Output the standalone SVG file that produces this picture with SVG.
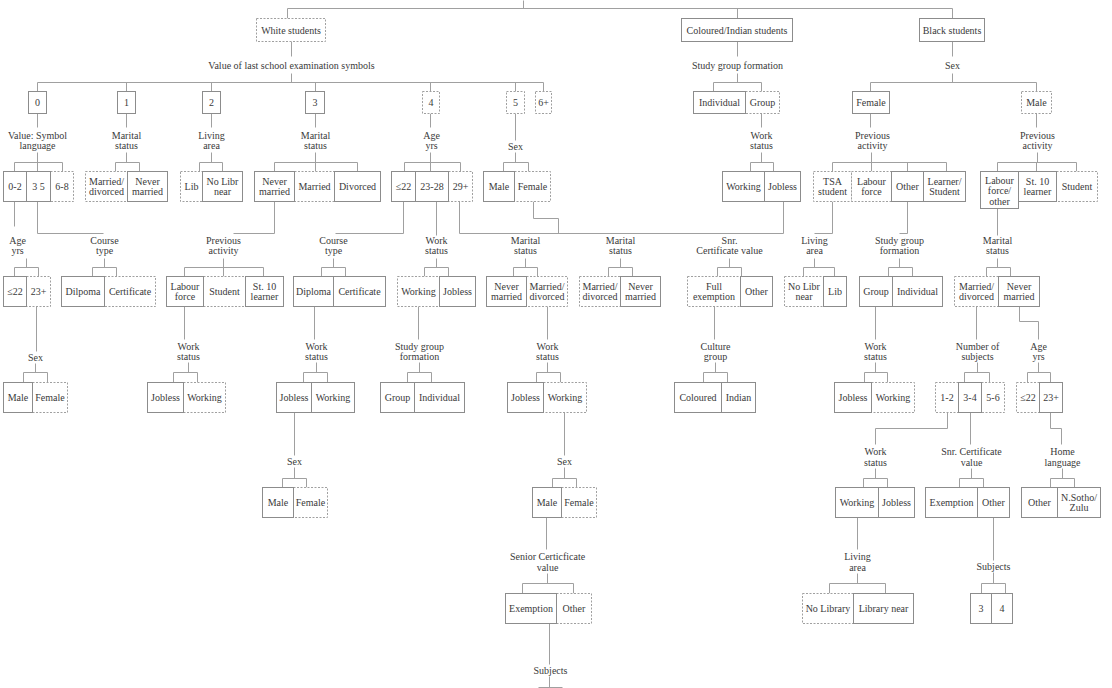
<svg xmlns="http://www.w3.org/2000/svg" width="1112" height="688" viewBox="0 0 1112 688">
<style>
.b{fill:#fff;stroke:#8c8c8c;stroke-width:1}
.d{fill:#fff;stroke:#a0a0a0;stroke-width:1;stroke-dasharray:2 1.5}
text{font-family:"Liberation Serif",serif;font-size:10px;fill:#3a3a3a;text-anchor:middle;dominant-baseline:central}
.c path{stroke:#a0a0a0;stroke-width:1;fill:none}
</style>
<rect width="1112" height="688" fill="#fff"/>
<g transform="translate(0.5,0.5)">
<g class="c" id="connectors">
<path d="M523 0V8M287 8H952M287 8V18M737 8V18M952 8V18"/>
<path d="M291 41V56M291 73V82M37 82H543M37 82V91M126 82V91M211 82V91M315 82V91M430 82V91M515 82V91M543 82V91"/>
<path d="M737 41V56M737 73V82M713 82H761M713 82V91M761 82V91"/>
<path d="M952 41V56M952 73V82M870 82H1036M870 82V91M1036 82V91"/>
<path d="M37 113V127M126 113V127M211 113V127M315 113V127M430 113V127M515 113V140M761 113V127M870 113V127M1036 113V127"/>
<path d="M37 152V162M126 152V162M211 152V162M315 152V162M430 152V162M515 152V162M761 152V162M871 152V162M1037 152V162"/>
<path d="M14 171V162H62V171M37 162V171M115 171V162H139V171M199 171V162H222V171M274 171V162H357V171M315 162V171M404 171V162H460V171M430 162V171M503 171V162H528V171M750 171V162H773V171M832 171V162H946V171M871 162V171M907 162V171M997 171V162H1076V171M1036 162V171"/>
<path d="M14 201V226M37 201V233H103M274 201V233H233M403 201V233H335M436 201V235M459 201V233H783M533 201V218H558V233M783 201V233M832 201V233H814M907 201V233H899M997 208V235"/>
<path d="M26 258V267M14 276V267H38V276M104 258V267M92 276V267H116V276M223 258V267M184 276V267H263V276M223 267V276M333 258V267M321 276V267H345V276M436 258V267M424 276V267H448V276M525 258V267M513 276V267H537V276M620 258V267M608 276V267H632V276M729 258V267M717 276V267H741V276M814 258V267M803 276V267H834V276M899 258V267M888 276V267H912V276M997 258V267M986 276V267H1010V276"/>
<path d="M36 306V351M184 306V339M314 306V339M418 306V339M547 306V339M714 306V339M875 306V339M976 306V339M1019 306V321H1038V339"/>
<path d="M35 363V372M23 382V372H47V382M188 362V372M173 382V372H197V382M316 362V372M303 382V372H327V382M419 362V372M407 382V372H431V382M547 362V372M536 382V372H560V382M715 362V372M703 382V372H727V382M875 362V372M864 382V372H887V382M977 362V372M964 382V372H989V382M1038 362V372M1027 382V372H1050V382"/>
<path d="M294 412V455M564 412V455M947 412V428H875V444M970 412V444M1050 412V428H1061V444"/>
<path d="M294 467V478M282 487V478H306V487M564 467V478M552 487V478H576V487M875 468V478M863 487V478H887V487M971 468V478M959 487V478H983V487M1062 468V478M1050 487V478H1074V487"/>
<path d="M546 517V549M857 517V549M993 517V560"/>
<path d="M547 573V583M522 593V583H573V593M857 573V583M829 593V583H885V593M993 572V583M981 593V583H1005V593"/>
<path d="M549 623V664M549 676V687M538 687H562"/>
</g>
<g id="n-white"><rect class="d" x="256" y="18" width="69" height="23"/><text x="290.5" y="29.5">White students</text></g>
<g id="n-ci"><rect class="b" x="681" y="18" width="111" height="23"/><text x="736.5" y="29.5">Coloured/Indian students</text></g>
<g id="n-black"><rect class="b" x="919" y="18" width="65" height="23"/><text x="951.5" y="29.5">Black students</text></g>
<g id="l-value"><text x="291" y="65">Value of last school examination symbols</text></g>
<g id="l-ci-sgf"><text x="737" y="65">Study group formation</text></g>
<g id="l-b-sex"><text x="952" y="65">Sex</text></g>
<g id="n-s0"><rect class="b" x="28" y="91" width="18" height="22"/><text x="37" y="102">0</text></g>
<g id="n-s1"><rect class="b" x="117" y="91" width="18" height="22"/><text x="126" y="102">1</text></g>
<g id="n-s2"><rect class="b" x="202" y="91" width="18" height="22"/><text x="211" y="102">2</text></g>
<g id="n-s3"><rect class="b" x="305" y="91" width="19" height="22"/><text x="314.5" y="102">3</text></g>
<g id="n-s4"><rect class="d" x="422" y="91" width="17" height="22"/><text x="430.5" y="102">4</text></g>
<g id="n-s5"><rect class="d" x="506" y="91" width="18" height="22"/><text x="515" y="102">5</text></g>
<g id="n-s6"><rect class="d" x="535" y="91" width="16" height="22"/><text x="543" y="102">6+</text></g>
<g id="n-ci-grp"><rect class="d" x="745" y="91" width="34" height="22"/><text x="762" y="102">Group</text></g>
<g id="n-ci-ind"><rect class="b" x="693" y="91" width="52" height="22"/><text x="719" y="102">Individual</text></g>
<g id="n-b-male"><rect class="d" x="1021" y="91" width="30" height="22"/><text x="1036" y="102">Male</text></g>
<g id="n-b-female"><rect class="b" x="852" y="91" width="37" height="22"/><text x="870.5" y="102">Female</text></g>
<g id="l-vsl"><text x="37" y="135">Value: Symbol</text><text x="37" y="145">language</text></g>
<g id="l-ms1"><text x="126" y="135">Marital</text><text x="126" y="145">status</text></g>
<g id="l-la2"><text x="211" y="135">Living</text><text x="211" y="145">area</text></g>
<g id="l-ms3"><text x="315" y="135">Marital</text><text x="315" y="145">status</text></g>
<g id="l-age4"><text x="431" y="135">Age</text><text x="431" y="145">yrs</text></g>
<g id="l-sex5"><text x="515" y="146">Sex</text></g>
<g id="l-ci-ws"><text x="761" y="135">Work</text><text x="761" y="145">status</text></g>
<g id="l-bf-pa"><text x="872" y="135">Previous</text><text x="872" y="145">activity</text></g>
<g id="l-bm-pa"><text x="1037" y="135">Previous</text><text x="1037" y="145">activity</text></g>
<g id="n-68"><rect class="d" x="50" y="171" width="23" height="30"/><text x="61.5" y="186">6-8</text></g>
<g id="n-02"><rect class="b" x="3" y="171" width="23" height="30"/><text x="14.5" y="186">0-2</text></g>
<g id="n-35"><rect class="b" x="26" y="171" width="24" height="30"/><text x="38" y="186">3 5</text></g>
<g id="n-1md"><rect class="d" x="85" y="171" width="42" height="30"/><text x="106" y="181">Married/</text><text x="106" y="191">divorced</text></g>
<g id="n-1nm"><rect class="b" x="127" y="171" width="40" height="30"/><text x="147" y="181">Never</text><text x="147" y="191">married</text></g>
<g id="n-2lib"><rect class="d" x="180" y="171" width="22" height="30"/><text x="191" y="186">Lib</text></g>
<g id="n-2nolib"><rect class="b" x="202" y="171" width="40" height="30"/><text x="222" y="181">No Libr</text><text x="222" y="191">near</text></g>
<g id="n-3mar"><rect class="d" x="294" y="171" width="40" height="30"/><text x="314" y="186">Married</text></g>
<g id="n-3nm"><rect class="b" x="254" y="171" width="40" height="30"/><text x="274" y="181">Never</text><text x="274" y="191">married</text></g>
<g id="n-3div"><rect class="b" x="334" y="171" width="46" height="30"/><text x="357" y="186">Divorced</text></g>
<g id="n-4a29"><rect class="d" x="448" y="171" width="24" height="30"/><text x="460" y="186">29+</text></g>
<g id="n-4a22"><rect class="b" x="391" y="171" width="24" height="30"/><text x="403" y="186">≤22</text></g>
<g id="n-4a2328"><rect class="b" x="415" y="171" width="33" height="30"/><text x="431.5" y="186">23-28</text></g>
<g id="n-5f"><rect class="d" x="514" y="171" width="36" height="30"/><text x="532" y="186">Female</text></g>
<g id="n-5m"><rect class="b" x="483" y="171" width="31" height="30"/><text x="498.5" y="186">Male</text></g>
<g id="n-ci-work"><rect class="b" x="722" y="171" width="42" height="30"/><text x="743" y="186">Working</text></g>
<g id="n-ci-jobless"><rect class="b" x="764" y="171" width="36" height="30"/><text x="782" y="186">Jobless</text></g>
<g id="n-bf-tsa"><rect class="d" x="813" y="171" width="38" height="30"/><text x="832" y="181">TSA</text><text x="832" y="191">student</text></g>
<g id="n-bf-lab"><rect class="d" x="851" y="171" width="40" height="30"/><text x="871" y="181">Labour</text><text x="871" y="191">force</text></g>
<g id="n-bf-oth"><rect class="b" x="891" y="171" width="32" height="30"/><text x="907" y="186">Other</text></g>
<g id="n-bf-lrn"><rect class="b" x="923" y="171" width="42" height="30"/><text x="944" y="181">Learner/</text><text x="944" y="191">Student</text></g>
<g id="n-bm-stu"><rect class="d" x="1056" y="171" width="41" height="30"/><text x="1076.5" y="186">Student</text></g>
<g id="n-bm-lab"><rect class="b" x="980" y="171" width="38" height="37"/><text x="999" y="179.5">Labour</text><text x="999" y="190">force/</text><text x="999" y="200.5">other</text></g>
<g id="n-bm-st10"><rect class="b" x="1018" y="171" width="38" height="30"/><text x="1037" y="181">St. 10</text><text x="1037" y="191">learner</text></g>
<g id="l-age0"><text x="17" y="240">Age</text><text x="17" y="250">yrs</text></g>
<g id="l-ct0"><text x="104" y="240">Course</text><text x="104" y="250">type</text></g>
<g id="l-pa3"><text x="223" y="240">Previous</text><text x="223" y="250">activity</text></g>
<g id="l-ct4"><text x="333" y="240">Course</text><text x="333" y="250">type</text></g>
<g id="l-ws4"><text x="436" y="240">Work</text><text x="436" y="250">status</text></g>
<g id="l-ms4"><text x="525" y="240">Marital</text><text x="525" y="250">status</text></g>
<g id="l-ms5"><text x="620" y="240">Marital</text><text x="620" y="250">status</text></g>
<g id="l-ci-snr"><text x="729" y="240">Snr.</text><text x="729" y="250">Certificate value</text></g>
<g id="l-bf-la"><text x="814" y="240">Living</text><text x="814" y="250">area</text></g>
<g id="l-bf-sgf"><text x="899" y="240">Study group</text><text x="899" y="250">formation</text></g>
<g id="l-bm-ms"><text x="997" y="240">Marital</text><text x="997" y="250">status</text></g>
<g id="n-0a23"><rect class="d" x="26" y="276" width="24" height="30"/><text x="38" y="291">23+</text></g>
<g id="n-0a22"><rect class="b" x="3" y="276" width="23" height="30"/><text x="14.5" y="291">≤22</text></g>
<g id="n-0cert"><rect class="d" x="104" y="276" width="51" height="30"/><text x="129.5" y="291">Certificate</text></g>
<g id="n-0dip"><rect class="b" x="61" y="276" width="43" height="30"/><text x="82.5" y="291">Dilpoma</text></g>
<g id="n-3stu"><rect class="d" x="203" y="276" width="42" height="30"/><text x="224" y="291">Student</text></g>
<g id="n-3lab"><rect class="b" x="166" y="276" width="37" height="30"/><text x="184.5" y="286">Labour</text><text x="184.5" y="296">force</text></g>
<g id="n-3st10"><rect class="b" x="245" y="276" width="38" height="30"/><text x="264" y="286">St. 10</text><text x="264" y="296">learner</text></g>
<g id="n-4dip"><rect class="b" x="293" y="276" width="40" height="30"/><text x="313" y="291">Diploma</text></g>
<g id="n-4cert"><rect class="b" x="333" y="276" width="52" height="30"/><text x="359" y="291">Certificate</text></g>
<g id="n-4work"><rect class="d" x="397" y="276" width="42" height="30"/><text x="418" y="291">Working</text></g>
<g id="n-4job"><rect class="b" x="439" y="276" width="36" height="30"/><text x="457" y="291">Jobless</text></g>
<g id="n-4md"><rect class="d" x="526" y="276" width="41" height="30"/><text x="546.5" y="286">Married/</text><text x="546.5" y="296">divorced</text></g>
<g id="n-4nm"><rect class="b" x="486" y="276" width="40" height="30"/><text x="506" y="286">Never</text><text x="506" y="296">married</text></g>
<g id="n-5md"><rect class="d" x="579" y="276" width="41" height="30"/><text x="599.5" y="286">Married/</text><text x="599.5" y="296">divorced</text></g>
<g id="n-5nm"><rect class="b" x="620" y="276" width="40" height="30"/><text x="640" y="286">Never</text><text x="640" y="296">married</text></g>
<g id="n-ci-full"><rect class="d" x="687" y="276" width="53" height="30"/><text x="713.5" y="286">Full</text><text x="713.5" y="296">exemption</text></g>
<g id="n-ci-oth"><rect class="b" x="740" y="276" width="32" height="30"/><text x="756" y="291">Other</text></g>
<g id="n-bf-nolib"><rect class="d" x="784" y="276" width="39" height="30"/><text x="803.5" y="286">No Libr</text><text x="803.5" y="296">near</text></g>
<g id="n-bf-lib"><rect class="b" x="823" y="276" width="23" height="30"/><text x="834.5" y="291">Lib</text></g>
<g id="n-bf-grp"><rect class="b" x="859" y="276" width="33" height="30"/><text x="875.5" y="291">Group</text></g>
<g id="n-bf-ind"><rect class="b" x="892" y="276" width="50" height="30"/><text x="917" y="291">Individual</text></g>
<g id="n-bm-md"><rect class="d" x="954" y="276" width="44" height="30"/><text x="976" y="286">Married/</text><text x="976" y="296">divorced</text></g>
<g id="n-bm-nm"><rect class="b" x="998" y="276" width="41" height="30"/><text x="1018.5" y="286">Never</text><text x="1018.5" y="296">married</text></g>
<g id="l-sex0"><text x="35" y="357">Sex</text></g>
<g id="l-ws3"><text x="188" y="346">Work</text><text x="188" y="356">status</text></g>
<g id="l-ws4d"><text x="316" y="346">Work</text><text x="316" y="356">status</text></g>
<g id="l-sgf4"><text x="419" y="346">Study group</text><text x="419" y="356">formation</text></g>
<g id="l-ws4m"><text x="547" y="346">Work</text><text x="547" y="356">status</text></g>
<g id="l-ci-cg"><text x="715" y="346">Culture</text><text x="715" y="356">group</text></g>
<g id="l-bf-ws"><text x="875" y="346">Work</text><text x="875" y="356">status</text></g>
<g id="l-bm-ns"><text x="977" y="346">Number of</text><text x="977" y="356">subjects</text></g>
<g id="l-bm-age"><text x="1038" y="346">Age</text><text x="1038" y="356">yrs</text></g>
<g id="n-0f"><rect class="d" x="32" y="382" width="35" height="30"/><text x="49.5" y="397">Female</text></g>
<g id="n-0m"><rect class="b" x="3" y="382" width="29" height="30"/><text x="17.5" y="397">Male</text></g>
<g id="n-3work"><rect class="d" x="183" y="382" width="42" height="30"/><text x="204" y="397">Working</text></g>
<g id="n-3job"><rect class="b" x="147" y="382" width="36" height="30"/><text x="165" y="397">Jobless</text></g>
<g id="n-4djob"><rect class="b" x="276" y="382" width="35" height="30"/><text x="293.5" y="397">Jobless</text></g>
<g id="n-4dwork"><rect class="b" x="311" y="382" width="43" height="30"/><text x="332.5" y="397">Working</text></g>
<g id="n-4grp"><rect class="b" x="380" y="382" width="34" height="30"/><text x="397" y="397">Group</text></g>
<g id="n-4ind"><rect class="b" x="414" y="382" width="50" height="30"/><text x="439" y="397">Individual</text></g>
<g id="n-4mwork"><rect class="d" x="543" y="382" width="43" height="30"/><text x="564.5" y="397">Working</text></g>
<g id="n-4mjob"><rect class="b" x="507" y="382" width="36" height="30"/><text x="525" y="397">Jobless</text></g>
<g id="n-ci-col"><rect class="b" x="674" y="382" width="47" height="30"/><text x="697.5" y="397">Coloured</text></g>
<g id="n-ci-ind2"><rect class="b" x="721" y="382" width="34" height="30"/><text x="738" y="397">Indian</text></g>
<g id="n-bf-work"><rect class="d" x="871" y="382" width="43" height="30"/><text x="892.5" y="397">Working</text></g>
<g id="n-bf-job"><rect class="b" x="834" y="382" width="37" height="30"/><text x="852.5" y="397">Jobless</text></g>
<g id="n-bm-12"><rect class="d" x="935" y="382" width="23" height="30"/><text x="946.5" y="397">1-2</text></g>
<g id="n-bm-56"><rect class="d" x="981" y="382" width="23" height="30"/><text x="992.5" y="397">5-6</text></g>
<g id="n-bm-34"><rect class="b" x="958" y="382" width="23" height="30"/><text x="969.5" y="397">3-4</text></g>
<g id="n-bm-a22"><rect class="d" x="1016" y="382" width="23" height="30"/><text x="1027.5" y="397">≤22</text></g>
<g id="n-bm-a23"><rect class="b" x="1039" y="382" width="23" height="30"/><text x="1050.5" y="397">23+</text></g>
<g id="l-sex4d"><text x="294" y="461">Sex</text></g>
<g id="l-sex4m"><text x="564" y="461">Sex</text></g>
<g id="l-bm-ws"><text x="875" y="451">Work</text><text x="875" y="462">status</text></g>
<g id="l-bm-snr"><text x="971" y="451">Snr. Certificate</text><text x="971" y="462">value</text></g>
<g id="l-bm-hl"><text x="1062" y="451">Home</text><text x="1062" y="462">language</text></g>
<g id="n-4df"><rect class="d" x="293" y="487" width="34" height="30"/><text x="310" y="502">Female</text></g>
<g id="n-4dm"><rect class="b" x="262" y="487" width="31" height="30"/><text x="277.5" y="502">Male</text></g>
<g id="n-4mf"><rect class="d" x="561" y="487" width="35" height="30"/><text x="578.5" y="502">Female</text></g>
<g id="n-4mm"><rect class="b" x="532" y="487" width="29" height="30"/><text x="546.5" y="502">Male</text></g>
<g id="n-bm-work"><rect class="b" x="835" y="487" width="43" height="30"/><text x="856.5" y="502">Working</text></g>
<g id="n-bm-job"><rect class="b" x="878" y="487" width="36" height="30"/><text x="896" y="502">Jobless</text></g>
<g id="n-bm-exe"><rect class="b" x="925" y="487" width="52" height="30"/><text x="951" y="502">Exemption</text></g>
<g id="n-bm-oth"><rect class="b" x="977" y="487" width="32" height="30"/><text x="993" y="502">Other</text></g>
<g id="n-bm-hoth"><rect class="b" x="1021" y="487" width="36" height="30"/><text x="1039" y="502">Other</text></g>
<g id="n-bm-nsz"><rect class="b" x="1057" y="487" width="43" height="30"/><text x="1078.5" y="497">N.Sotho/</text><text x="1078.5" y="507">Zulu</text></g>
<g id="l-scv"><text x="547" y="556">Senior Certicficate</text><text x="547" y="567">value</text></g>
<g id="l-bm-la"><text x="857" y="556">Living</text><text x="857" y="567">area</text></g>
<g id="l-bm-subj"><text x="993" y="566">Subjects</text></g>
<g id="n-4oth"><rect class="d" x="556" y="593" width="35" height="30"/><text x="573.5" y="608">Other</text></g>
<g id="n-4exe"><rect class="b" x="505" y="593" width="51" height="30"/><text x="530.5" y="608">Exemption</text></g>
<g id="n-bm-nolib"><rect class="d" x="802" y="593" width="51" height="30"/><text x="827.5" y="608">No Library</text></g>
<g id="n-bm-lib"><rect class="b" x="853" y="593" width="60" height="30"/><text x="883" y="608">Library near</text></g>
<g id="n-bm-s3"><rect class="b" x="970" y="593" width="21" height="30"/><text x="980.5" y="608">3</text></g>
<g id="n-bm-s4"><rect class="b" x="991" y="593" width="21" height="30"/><text x="1001.5" y="608">4</text></g>
<g id="l-subj"><text x="550" y="670">Subjects</text></g>
</g>
</svg>
